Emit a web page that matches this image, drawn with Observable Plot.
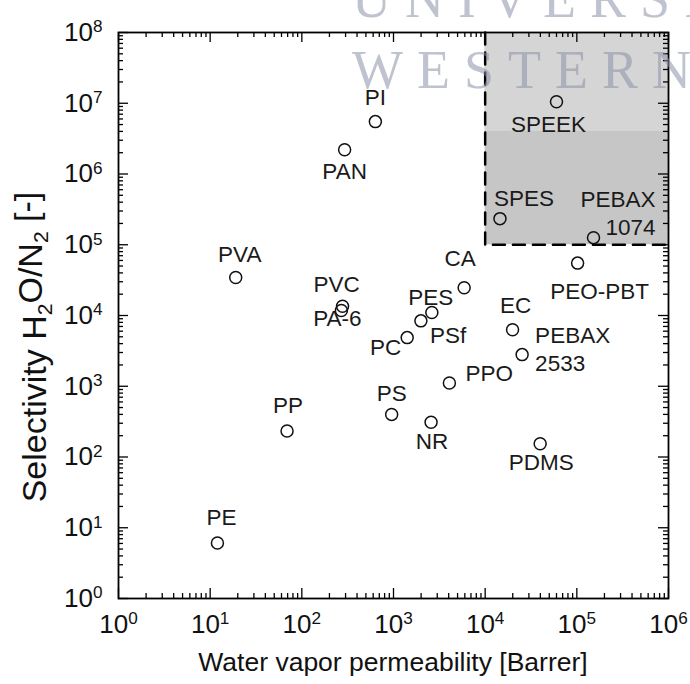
<!DOCTYPE html>
<html><head><meta charset="utf-8">
<script src="https://cdn.jsdelivr.net/npm/d3@7"></script>
<script src="https://cdn.jsdelivr.net/npm/@observablehq/plot@0.6"></script>
<style>
body{margin:0;background:#fff;}
#chart{position:relative;width:690px;height:684px;overflow:hidden;}
</style></head><body><div id="chart"></div>
<script>
// ---- data ----
const names = ["PE","PP","PVA","PVC","PA-6","PAN","PI","PS","NR","PPO","PC","PSf","PES","CA","EC","PEBAX\n2533","PDMS","PEO-PBT","PEBAX\n1074","SPES","SPEEK"];
const permeability = [12, 69, 19, 278, 270, 293, 634, 955, 2570, 4070, 1410, 1990, 2620, 5900, 19900, 25300, 39800, 102000, 152000, 14500, 60000];
const selectivity = [6.1, 233, 34500, 13500, 11800, 2.2e6, 5.5e6, 400, 310, 1110, 4870, 8400, 11000, 24700, 6300, 2800, 154, 55000, 126000, 234000, 1.05e7];
const xMajor = [1e0, 1e1, 1e2, 1e3, 1e4, 1e5, 1e6];
const yMajor = [1e0, 1e1, 1e2, 1e3, 1e4, 1e5, 1e6, 1e7, 1e8];
const targetX = [1e4, 1e6];          // desired region, permeability
const targetY = [1e5, 1e8];          // desired region, selectivity
const bandY = [4e6, 1e8];            // lighter upper band of the region
const regionEdgeX = [1e4, 1e4, 1e6];
const regionEdgeY = [1e8, 1e5, 1e5];

// label placement (layout only): [dx, dy, anchor]
const place = {
  "PE":[4,-27,"middle"], "PP":[1,-27,"middle"], "PVA":[4,-24,"middle"], "PVC":[-6,-23,"middle"],
  "PA-6":[-4,7,"middle"], "PAN":[0,20,"middle"], "PI":[0,-26,"middle"], "PS":[0,-22,"middle"],
  "NR":[1,18,"middle"], "PPO":[16,-11,"start"], "PC":[-6,8,"end"], "PSf":[9,13,"start"],
  "PES":[-1,-17,"middle"], "CA":[-4,-31,"middle"], "EC":[3,-26,"middle"], "PEBAX\n2533":[13,-7,"start"],
  "PDMS":[1,17,"middle"], "PEO-PBT":[22,27,"middle"], "PEBAX\n1074":[62,-26,"end"],
  "SPES":[-6,-22,"start"], "SPEEK":[-8,21,"middle"]
};

const W = 690, H = 684;
const mL = 118, mR = 22, mT = 32, mB = 86;
const innerW = W - mL - mR, innerH = H - mT - mB;

const pts = names.map((n, i) => ({name: n, x: permeability[i], y: selectivity[i]}));
const xMinor = [], yMinor = [];
for (let d = 0; d < 6; d++) for (let k = 2; k <= 9; k++) xMinor.push(k * 10 ** d);
for (let d = 0; d < 8; d++) for (let k = 2; k <= 9; k++) yMinor.push(k * 10 ** d);

const MAJ = 10, MIN = 5;
const fmt = d => "10^" + Math.round(Math.log10(d));

const labelMarks = pts.map(p => {
  const [dx, dy, a] = place[p.name];
  return Plot.text([p], {x: "x", y: "y", text: "name", dx, dy, textAnchor: a,
    fontSize: 22.5, fill: "#1a1a1a", lineHeight: 1.25});
});

const plot = Plot.plot({
  width: W, height: H,
  marginLeft: mL, marginRight: mR, marginTop: mT, marginBottom: mB,
  style: {fontFamily: "'Liberation Sans', Arial, sans-serif", background: "white", overflow: "visible", color: "#111"},
  x: {type: "log", domain: [1e0, 1e6]},
  y: {type: "log", domain: [1e0, 1e8]},
  marks: [
    Plot.rect([0], {x1: () => targetX[0], x2: () => targetX[1], y1: () => targetY[0], y2: () => targetY[1], fill: "#c6c6c6"}),
    Plot.rect([0], {x1: () => targetX[0], x2: () => targetX[1], y1: () => bandY[0], y2: () => bandY[1], fill: "#d5d5d5"}),
    Plot.line(regionEdgeX.map((x, i) => ({x, y: regionEdgeY[i]})), {x: "x", y: "y", stroke: "#000", strokeWidth: 2.5, strokeDasharray: "12,8"}),
    Plot.frame({stroke: "#000", strokeWidth: 1.8}),
    // inward ticks on all four sides
    Plot.ruleX(xMajor, {insetTop: innerH - MAJ, stroke: "#000", strokeWidth: 1.3}),
    Plot.ruleX(xMajor, {insetBottom: innerH - MAJ, stroke: "#000", strokeWidth: 1.3}),
    Plot.ruleX(xMinor, {insetTop: innerH - MIN, stroke: "#000", strokeWidth: 1.3}),
    Plot.ruleX(xMinor, {insetBottom: innerH - MIN, stroke: "#000", strokeWidth: 1.3}),
    Plot.ruleY(yMajor, {insetRight: innerW - MAJ, stroke: "#000", strokeWidth: 1.3}),
    Plot.ruleY(yMajor, {insetLeft: innerW - MAJ, stroke: "#000", strokeWidth: 1.3}),
    Plot.ruleY(yMinor, {insetRight: innerW - MIN, stroke: "#000", strokeWidth: 1.3}),
    Plot.ruleY(yMinor, {insetLeft: innerW - MIN, stroke: "#000", strokeWidth: 1.3}),
    Plot.axisX(xMajor, {tickSize: 0, tickPadding: 16, fontSize: 26, tickFormat: fmt, label: null}),
    Plot.axisY(yMajor, {tickSize: 0, tickPadding: 16, fontSize: 26, tickFormat: fmt, label: null}),
    Plot.dot(pts, {x: "x", y: "y", r: 6, stroke: "#111", strokeWidth: 1.5, fill: "none"}),
    ...labelMarks
  ]
});

const svg = d3.select(plot);
svg.selectAll("text").each(function () {
  const m = /^10\^(\d+)$/.exec(this.textContent);
  if (m) {
    const s = d3.select(this);
    s.text(null);
    s.append("tspan").text("10");
    s.append("tspan").attr("dy", "-0.5em").attr("font-size", "0.66em").text(m[1]);
  }
});

// axis titles
svg.append("text").attr("x", mL + innerW / 2).attr("y", 671)
  .attr("text-anchor", "middle").attr("font-size", 26.5).attr("fill", "#111")
  .text("Water vapor permeability [Barrer]");
const yt = svg.append("text").attr("transform", "translate(46,347) rotate(-90)")
  .attr("text-anchor", "middle").attr("font-size", 34).attr("fill", "#111");
yt.append("tspan").text("Selectivity H");
yt.append("tspan").attr("dy", "0.3em").attr("font-size", "0.62em").text("2");
yt.append("tspan").attr("dy", "-0.3em").text("O/N");
yt.append("tspan").attr("dy", "0.3em").attr("font-size", "0.62em").text("2");
yt.append("tspan").attr("dy", "-0.3em").text(" [-]");

// faint watermark
const wm = svg.append("g").attr("fill", "#8a8fa8").attr("fill-opacity", 0.55)
  .attr("font-family", "'Liberation Serif', 'DejaVu Serif', serif").attr("font-size", 54)
  .attr("letter-spacing", 14).attr("text-anchor", "start");
wm.append("text").attr("x", 352).attr("y", 17).text("UNIVERSITY");
wm.append("text").attr("x", 352).attr("y", 88).text("WESTERN");

document.getElementById("chart").appendChild(plot);
</script></body></html>
